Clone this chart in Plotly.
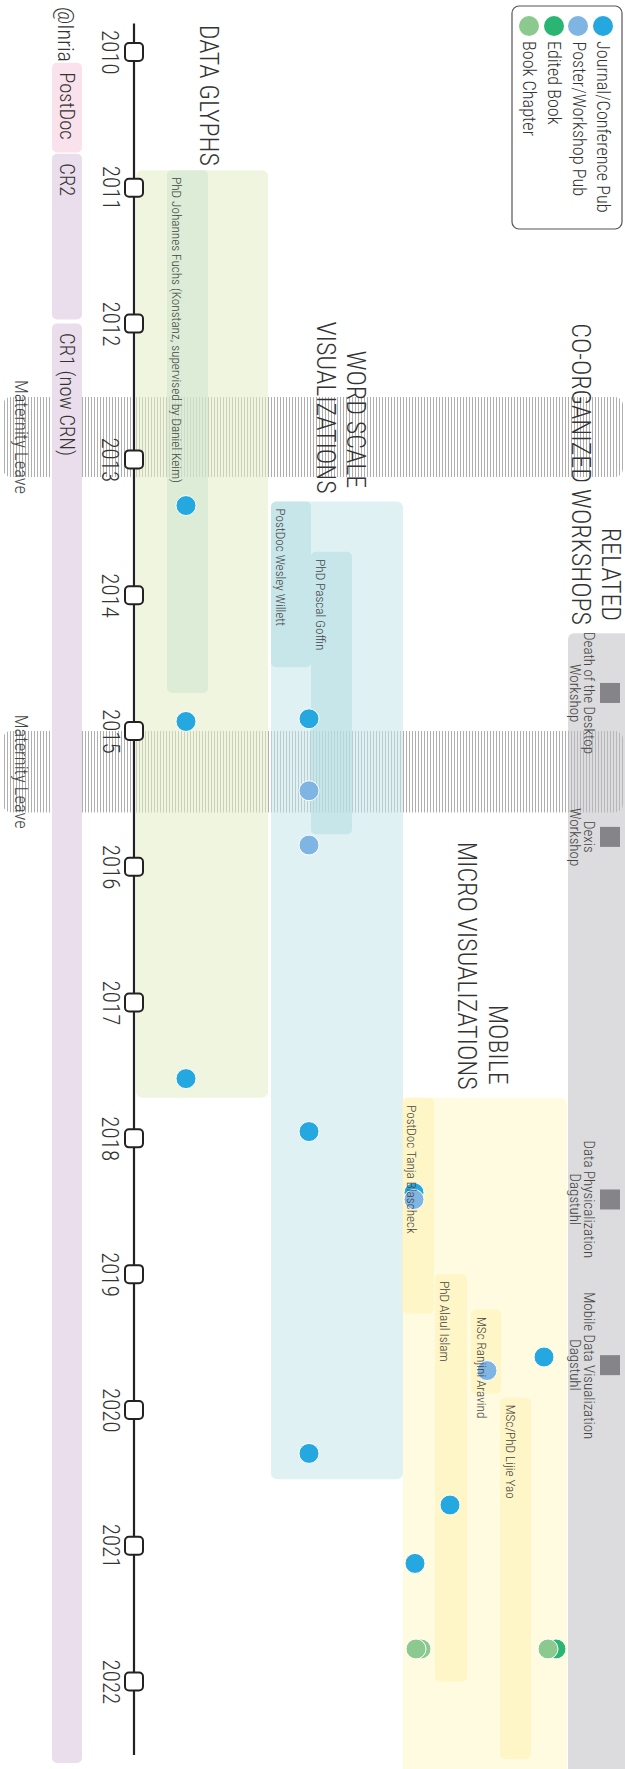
import plotly.graph_objects as go

# ---------------- canvas / scale (layout) ----------------
W, H = 625, 1769
Y_TOP, Y_BOTTOM = 2009.617, 2022.644
PPY = H / (Y_BOTTOM - Y_TOP)          # pixels per year


def dy(px):
    return px / PPY


FONT = "Roboto Condensed, Liberation Sans Narrow, Roboto, sans-serif"
TEXT = "#333333"

# ---------------- data ----------------
years = list(range(2010, 2023))

role_names = ["PostDoc", "CR2", "CR1 (now CRN)"]
role_start = [2010.08, 2010.75, 2012.00]
role_end = [2010.74, 2011.97, 2022.60]

leave_start = [2012.54, 2015.00]
leave_end = [2013.13, 2015.60]

theme_titles = [["DATA GLYPHS"], ["WORD SCALE", "VISUALIZATIONS"],
                ["MOBILE", "MICRO VISUALIZATIONS"], ["RELATED", "CO-ORGANIZED WORKSHOPS"]]
theme_start = [2010.87, 2013.31, 2017.70, 2014.28]
theme_end = [2017.70, 2020.51, 2022.90, 2022.90]

people_names = ["PhD Johannes Fuchs (Konstanz, supervised by Daniel Keim)",
                "PostDoc Wesley Willett", "PhD Pascal Goffin",
                "PostDoc Tanja Blascheck", "PhD Alaul Islam",
                "MSc Ranjini Aravind", "MSc/PhD Lijie Yao"]
people_start = [2010.87, 2013.31, 2013.68, 2017.70, 2019.00, 2019.26, 2019.91]
people_end = [2014.72, 2014.53, 2015.76, 2019.29, 2022.00, 2019.88, 2022.57]

pub_types = ["Journal/Conference Pub", "Poster/Workshop Pub", "Edited Book", "Book Chapter"]
pub_year = [2013.34, 2014.93, 2017.56,
            2014.91, 2015.44, 2015.84, 2017.95, 2020.32,
            2018.40, 2018.45, 2019.61, 2019.71, 2020.70, 2021.13,
            2021.76, 2021.76, 2021.76, 2021.76]
pub_type = ["Journal/Conference Pub"] * 3 + \
           ["Journal/Conference Pub", "Poster/Workshop Pub", "Poster/Workshop Pub",
            "Journal/Conference Pub", "Journal/Conference Pub"] + \
           ["Journal/Conference Pub", "Poster/Workshop Pub", "Journal/Conference Pub",
            "Poster/Workshop Pub", "Journal/Conference Pub", "Journal/Conference Pub",
            "Book Chapter", "Book Chapter", "Edited Book", "Book Chapter"]

workshop_line1 = ["Death of the Desktop", "Dexis", "Data Physicalization", "Mobile Data Visualization"]
workshop_line2 = ["Workshop", "Workshop", "Dagstuhl", "Dagstuhl"]
workshop_year = [2014.72, 2015.78, 2018.45, 2019.67]

# ---------------- layout constants (positions / styles) ----------------
AXIS_X = 134
AXIS_START, AXIS_END = 2009.79, 2022.54
YEAR_LABEL_X = 110
ROLE_X = (52, 82)
ROLE_COLORS = ["#f9e2ec", "#ebdeec", "#ebdeec"]
THEME_X = [(136, 268), (271, 403), (403, 567), (568, 630)]
THEME_COLORS = ["#eff5df", "#dff1f3", "#fffbe0", "#dcdcde"]
THEME_TITLE_X = [[209], [356, 326], [498, 467], [611, 581]]
THEME_TITLE_GAP = [[3], [11, 6], [11, 6], [11, 6]]
PEOPLE_X = [(167, 208), (271, 311), (311, 352), (402, 434), (435, 467), (471, 501), (500, 531)]
PEOPLE_COLORS = ["#dcebd5", "#c6e6e9", "#c6e6e9", "#fff6c7", "#fff6c7", "#fff6c7", "#fff6c7"]
PEOPLE_PARENT = [0, 1, 1, 2, 2, 2, 2]
PUB_COLORS = {"Journal/Conference Pub": "#25a8e0", "Poster/Workshop Pub": "#7fb5e3",
              "Edited Book": "#2bb572", "Book Chapter": "#8cc98f"}
PUB_X = [186, 186, 186, 309, 309, 309, 309, 309,
         414, 414, 544, 487, 450, 415, 421, 416, 556, 548]
LEAVE_X = (3, 623)
WS_X = 610
LEGEND_BOX = (512, 622, 6, 229)   # x0, x1, y0px, y1px
LEGEND_DOT_X = [603, 578, 554, 529]
LANE_ALPHA = 0.55


def hex_rgb(h):
    h = h.lstrip("#")
    return [int(h[i:i + 2], 16) for i in (0, 2, 4)]


def see_through(target, under, a):
    """rgba colour with alpha a that gives `target` when laid over `under`."""
    t, u = hex_rgb(target), hex_rgb(under)
    c = [max(0, min(255, round((tv - (1 - a) * uv) / a))) for tv, uv in zip(t, u)]
    return "rgba(%d,%d,%d,%.2f)" % (c[0], c[1], c[2], a)


fig = go.Figure()


def add_boxes(x0s, x1s, starts, ends, colors, radius=5, line_color=None, line_width=0, pattern=None):
    mk = dict(color=colors, cornerradius=radius,
              line=dict(color=line_color or "rgba(0,0,0,0)", width=line_width))
    if pattern:
        mk["pattern"] = pattern
    fig.add_trace(go.Bar(
        orientation="h",
        y=[(s + e) / 2 for s, e in zip(starts, ends)],
        width=[e - s for s, e in zip(starts, ends)],
        base=list(x0s),
        x=[b - a for a, b in zip(x0s, x1s)],
        marker=mk, hoverinfo="skip", showlegend=False))


# maternity leave hatched bands (below the see-through lanes)
add_boxes([LEAVE_X[0]] * 2, [LEAVE_X[1]] * 2, leave_start, leave_end,
          "rgba(255,255,255,0.02)", radius=8,
          pattern=dict(shape="|", size=3, solidity=0.3, fgcolor="#a6a6a6", fgopacity=1,
                       bgcolor="rgba(255,255,255,0)", fillmode="overlay"))
# roles (opaque)
add_boxes([ROLE_X[0]] * 3, [ROLE_X[1]] * 3, role_start, role_end, ROLE_COLORS, radius=5)
# theme lanes (see-through)
add_boxes([a for a, b in THEME_X], [b for a, b in THEME_X], theme_start, theme_end,
          [see_through(c, "#ffffff", LANE_ALPHA) for c in THEME_COLORS], radius=6)
# people
add_boxes([a for a, b in PEOPLE_X], [b for a, b in PEOPLE_X], people_start, people_end,
          [see_through(c, THEME_COLORS[p], LANE_ALPHA) for c, p in zip(PEOPLE_COLORS, PEOPLE_PARENT)],
          radius=5)
# legend box
add_boxes([LEGEND_BOX[0]], [LEGEND_BOX[1]], [Y_TOP + dy(LEGEND_BOX[2])], [Y_TOP + dy(LEGEND_BOX[3])],
          ["white"], radius=7, line_color="#555555", line_width=1.2)
# timeline axis
add_boxes([AXIS_X - 1.1], [AXIS_X + 1.1], [AXIS_START], [AXIS_END], ["#222222"], radius=0)
# year ticks
add_boxes([AXIS_X - 9] * len(years), [AXIS_X + 9] * len(years),
          [y - dy(9) for y in years], [y + dy(9) for y in years],
          ["white"] * len(years), radius=4, line_color="#222222", line_width=2)

# workshops squares
fig.add_trace(go.Scatter(x=[WS_X] * len(workshop_year), y=workshop_year, mode="markers",
                         marker=dict(symbol="square", size=20, color="#858589"),
                         hoverinfo="skip", showlegend=False))
# publications
fig.add_trace(go.Scatter(x=PUB_X, y=pub_year, mode="markers",
                         marker=dict(size=20, color=[PUB_COLORS[t] for t in pub_type],
                                     line=dict(color="white", width=1)),
                         hoverinfo="skip", showlegend=False))
# legend dots
fig.add_trace(go.Scatter(x=LEGEND_DOT_X, y=[Y_TOP + dy(26)] * 4, mode="markers",
                         marker=dict(size=20, color=[PUB_COLORS[t] for t in pub_types]),
                         hoverinfo="skip", showlegend=False))

ann = []


def text(x, y, s, size, yanchor="middle", xanchor="center", align="left", color=TEXT):
    ann.append(dict(x=x, y=y, text=s, textangle=90, showarrow=False, xref="x", yref="y",
                    xanchor=xanchor, yanchor=yanchor, align=align,
                    font=dict(family=FONT, size=size, color=color, weight=300)))


for yr in years:
    text(YEAR_LABEL_X, yr, str(yr), 23)
text(66, Y_TOP + dy(34), "@Inria", 22)
for n, s in zip(role_names, role_start):
    text(67, s + dy(7), n, 20.5, yanchor="top")
for s, e in zip(leave_start, leave_end):
    text(21, (s + e) / 2, "Maternity Leave", 18.5, color="#444444")
for lines, s, xs, gaps in zip(theme_titles, theme_start, THEME_TITLE_X, THEME_TITLE_GAP):
    for ln, x, g in zip(lines, xs, gaps):
        text(x, s - dy(g), ln, 26, yanchor="bottom")
for n, s, (a, b) in zip(people_names, people_start, PEOPLE_X):
    text(a + 10, s + dy(5), n, 13.2, yanchor="top", color="#444444")
for l1, l2, y in zip(workshop_line1, workshop_line2, workshop_year):
    text(589, y, l1, 15, color="#444444")
    text(575, y, l2, 15, color="#444444")
for t, x in zip(pub_types, LEGEND_DOT_X):
    text(x + 1, Y_TOP + dy(39), t, 18.2, yanchor="top")

fig.update_layout(
    width=W, height=H, margin=dict(l=0, r=0, t=0, b=0, pad=0),
    paper_bgcolor="white", plot_bgcolor="white", showlegend=False,
    barmode="overlay", hovermode=False,
    xaxis=dict(range=[0, W], visible=False, fixedrange=True),
    yaxis=dict(range=[Y_BOTTOM, Y_TOP], visible=False, fixedrange=True),
    annotations=ann,
)

# remove the default 8px page margin so the figure sits at the window origin
fig.write_html("out.html", config={"displayModeBar": False},
               post_script="document.body.style.margin='0px';")
